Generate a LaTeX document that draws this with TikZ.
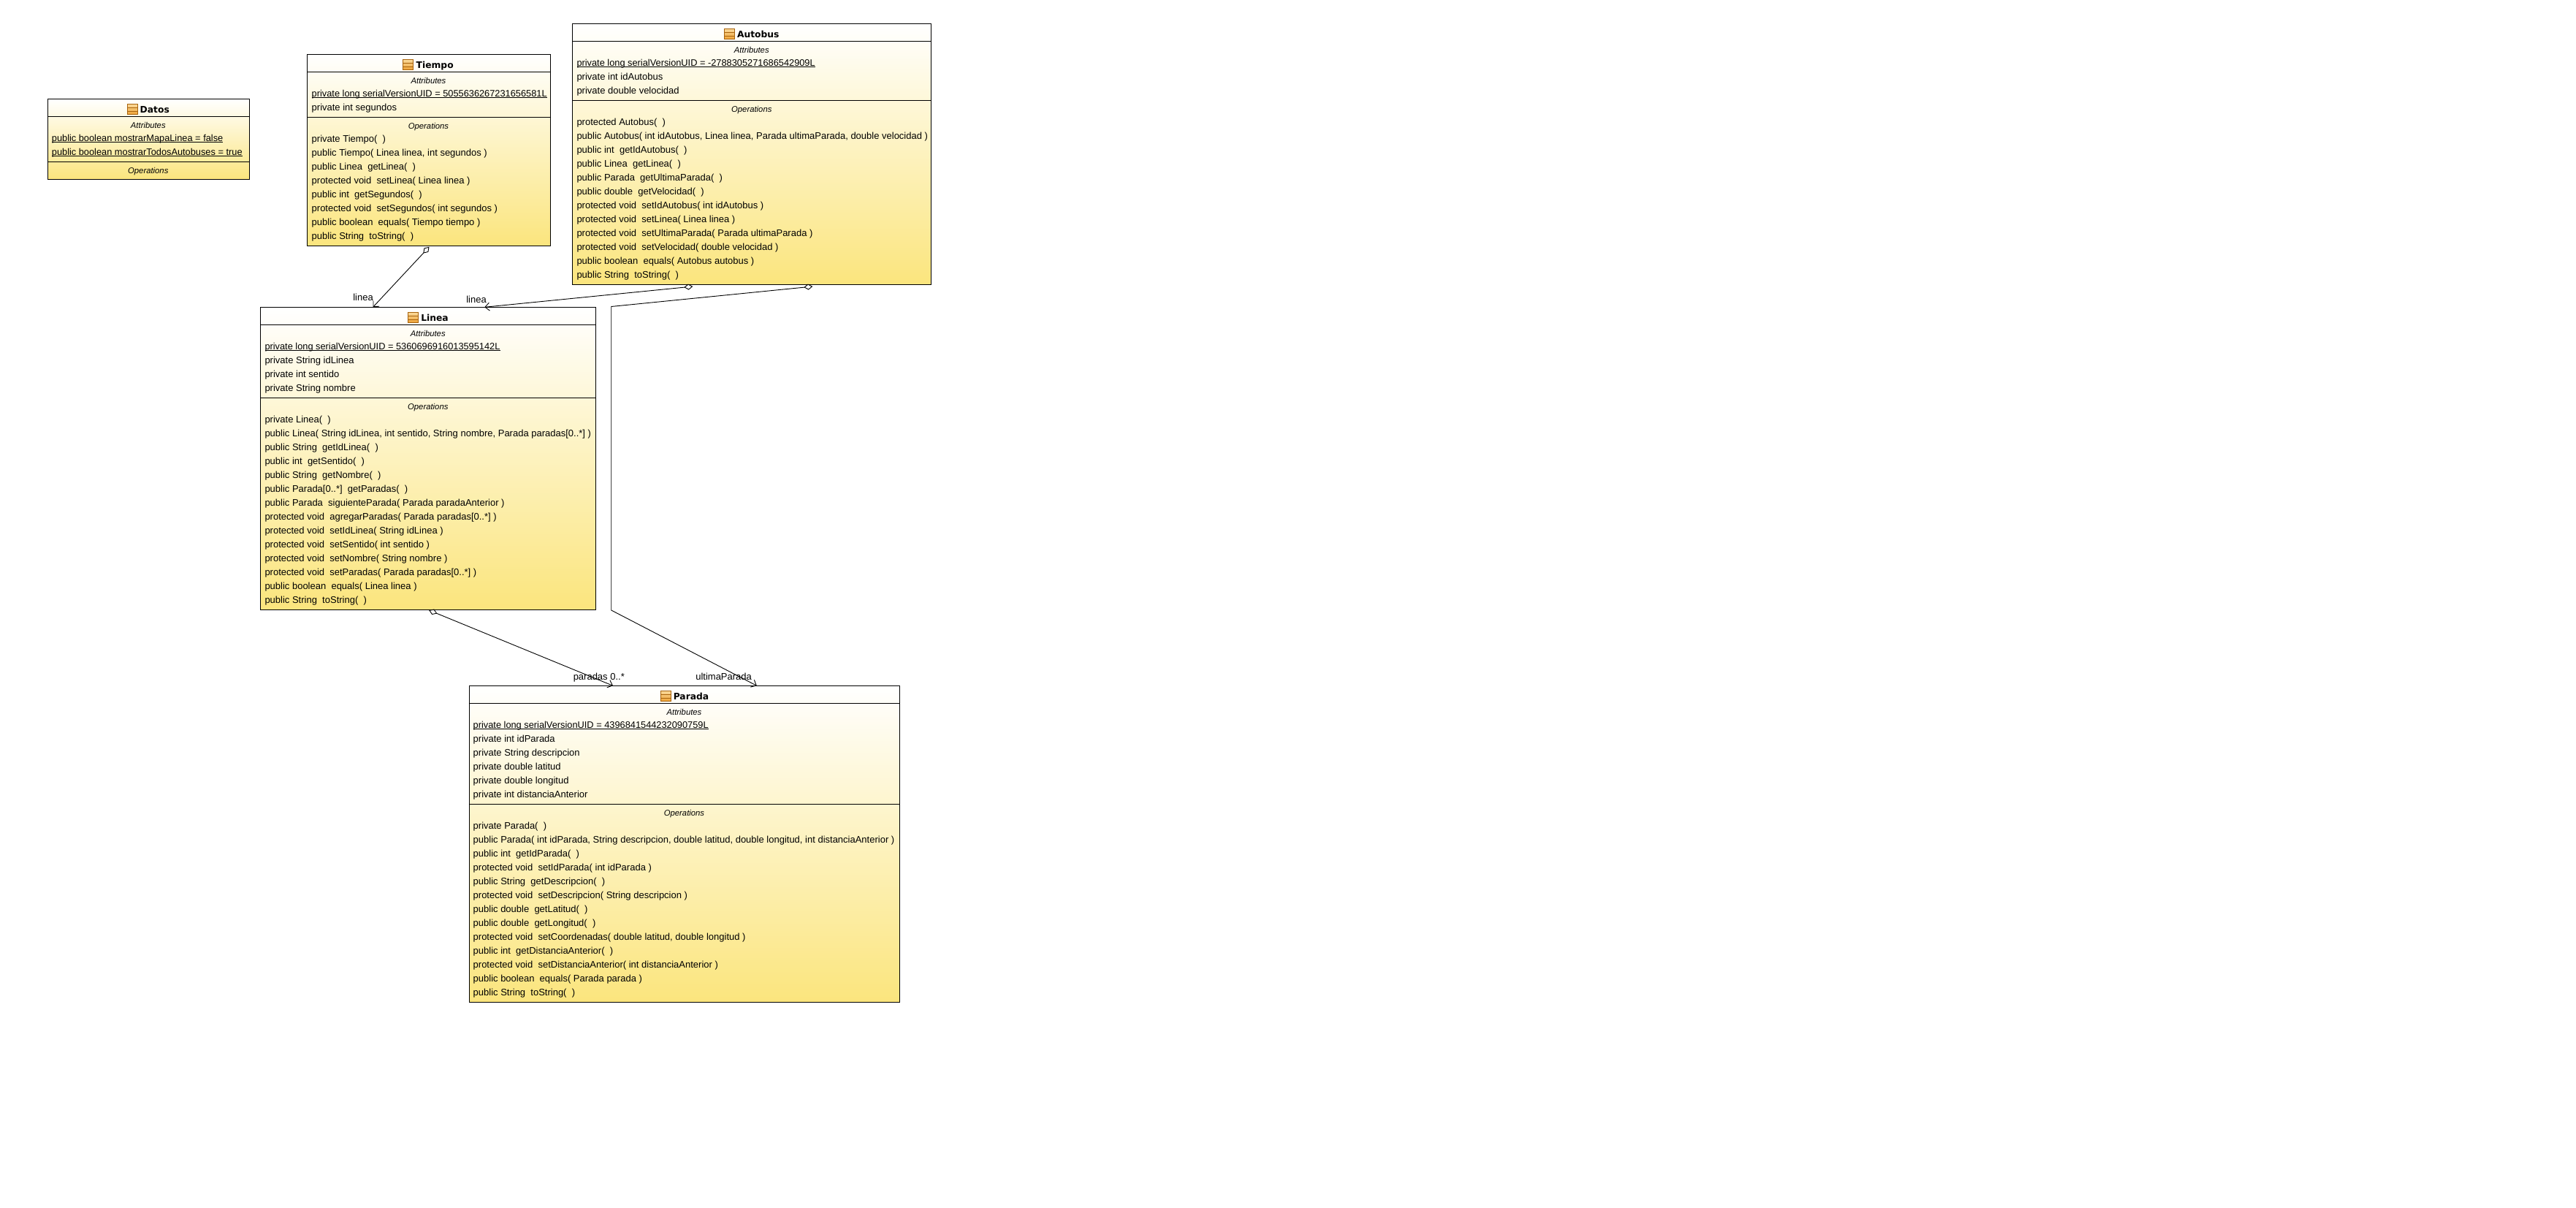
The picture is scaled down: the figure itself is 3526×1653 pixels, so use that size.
\documentclass[tikz,border=0pt]{standalone}
\usepackage{fontspec}
\setmainfont{Liberation Sans}
\newfontfamily\namefont{DejaVu Sans}
\usetikzlibrary{positioning,arrows.meta}
\newsavebox{\staticbox}
\newcommand{\staticrow}[1]{\sbox{\staticbox}{#1}\rlap{\rule[-1.8pt]{\wd\staticbox}{1pt}}\usebox{\staticbox}}
\tikzset{
classbox/.style={draw=black,line width=1pt,top color=cfTop,bottom color=cfBottom,shape=rectangle,inner sep=0pt,anchor=north west},
rowtext/.style={anchor=base west,inner sep=0pt,text=black,font=\fontsize{13}{15}\selectfont},
rowstatic/.style={rowtext,font=\fontsize{12.8}{15}\selectfont},
seclabel/.style={anchor=base,inner sep=0pt,text=black,font=\fontsize{11.3}{13}\selectfont\itshape},
classname/.style={anchor=base,inner sep=0pt,text height=10pt,text depth=0pt,font=\namefont\bfseries\fontsize{12.3}{15}\selectfont},
classicon/.style={draw=cIcon,line width=1pt,top color=cfIconTop,bottom color=cfIconBottom,shape=rectangle,inner sep=0pt,minimum width=14pt,minimum height=14pt,left=3pt of #1,path picture={\draw[cIcon,line width=0.8pt] ([yshift=-4.7pt]path picture bounding box.north west) -- ([yshift=-4.7pt]path picture bounding box.north east) ([yshift=4.7pt]path picture bounding box.south west) -- ([yshift=4.7pt]path picture bounding box.south east);}},
divider/.style={line width=1pt,draw=black},
assoc/.style={line width=0.9pt,draw=black,{Diamond[open,length=12pt,width=8pt,line width=0.9pt]}-{Straight Barb[length=6pt,width=11pt,line width=0.9pt]}},
rolelabel/.style={anchor=center,inner sep=0pt,text=black,font=\fontsize{13}{15}\selectfont}
}
\begin{document}
\begin{tikzpicture}[x=1pt,y=-1pt]
\definecolor{cfTop}{rgb}{1.0,1.0,1.0}
\definecolor{cfBottom}{rgb}{0.984,0.898,0.49}
\definecolor{cIcon}{rgb}{0.66,0.39,0.05}
\definecolor{cfIconTop}{rgb}{0.98,0.85,0.6}
\definecolor{cfIconBottom}{rgb}{0.93,0.63,0.2}
\useasboundingbox (0,0) rectangle (3526,1653);
%
\node[classbox,minimum width=276.6pt,minimum height=110pt] (vDatos) at (64.5,135.3) {};
\node[classbox,minimum width=332.2pt,minimum height=262pt] (vTiempo) at (420.4,74.3) {};
\node[classbox,minimum width=491pt,minimum height=356.7pt] (vAutobus) at (783.3,32.3) {};
\node[classbox,minimum width=459pt,minimum height=413.7pt] (vLinea) at (356.3,420.3) {};
\node[classbox,minimum width=589.9pt,minimum height=433pt] (vParada) at (641.5,938.3) {};
%
\draw[divider] (vDatos.west |- 0,159.3) -- (vDatos.east |- 0,159.3);
\draw[divider] (vDatos.west |- 0,221.3) -- (vDatos.east |- 0,221.3);
\draw[divider] (vTiempo.west |- 0,98.3) -- (vTiempo.east |- 0,98.3);
\draw[divider] (vTiempo.west |- 0,160.3) -- (vTiempo.east |- 0,160.3);
\draw[divider] (vAutobus.west |- 0,56.3) -- (vAutobus.east |- 0,56.3);
\draw[divider] (vAutobus.west |- 0,137.3) -- (vAutobus.east |- 0,137.3);
\draw[divider] (vLinea.west |- 0,444.3) -- (vLinea.east |- 0,444.3);
\draw[divider] (vLinea.west |- 0,544.3) -- (vLinea.east |- 0,544.3);
\draw[divider] (vParada.west |- 0,962.3) -- (vParada.east |- 0,962.3);
\draw[divider] (vParada.west |- 0,1100.3) -- (vParada.east |- 0,1100.3);
%
\node[classname] (vDatosName) at (211.8,154.8) {Datos};
\node[classicon=vDatosName] (vDatosIcon) {};
\node[classname] (vTiempoName) at (595.2,93.8) {Tiempo};
\node[classicon=vTiempoName] (vTiempoIcon) {};
\node[classname] (vAutobusName) at (1037.8,51.8) {Autobus};
\node[classicon=vAutobusName] (vAutobusIcon) {};
\node[classname] (vLineaName) at (595,439.8) {Linea};
\node[classicon=vLineaName] (vLineaIcon) {};
\node[classname] (vParadaName) at (946,957.8) {Parada};
\node[classicon=vParadaName] (vParadaIcon) {};
%
\node[seclabel] (vDatosA) at (202.8,175.7) {Attributes};
\node[rowstatic] (vDatosA1) at (70.7,193.3) {\staticrow{public boolean mostrarMapaLinea = false}};
\node[rowstatic] (vDatosA2) at (70.7,212.3) {\staticrow{public boolean mostrarTodosAutobuses = true}};
\node[seclabel] (vDatosO) at (202.8,237.7) {Operations};
%
\node[seclabel] (vTiempoA) at (586.5,114.7) {Attributes};
\node[rowstatic] (vTiempoA1) at (426.5,132.3) {\staticrow{private long serialVersionUID = 5055636267231656581L}};
\node[rowtext] (vTiempoA2) at (426.5,151.3) {private int segundos};
\node[seclabel] (vTiempoO) at (586.5,176.7) {Operations};
\node[rowtext] (vTiempoO1) at (426.5,194.3) {private Tiempo(\ \ )};
\node[rowtext] (vTiempoO2) at (426.5,213.3) {public Tiempo( Linea linea, int segundos )};
\node[rowtext] (vTiempoO3) at (426.5,232.3) {public Linea\ \ getLinea(\ \ )};
\node[rowtext] (vTiempoO4) at (426.5,251.3) {protected void\ \ setLinea( Linea linea )};
\node[rowtext] (vTiempoO5) at (426.5,270.3) {public int\ \ getSegundos(\ \ )};
\node[rowtext] (vTiempoO6) at (426.5,289.3) {protected void\ \ setSegundos( int segundos )};
\node[rowtext] (vTiempoO7) at (426.5,308.3) {public boolean\ \ equals( Tiempo tiempo )};
\node[rowtext] (vTiempoO8) at (426.5,327.3) {public String\ \ toString(\ \ )};
%
\node[seclabel] (vAutobusA) at (1028.8,72.7) {Attributes};
\node[rowstatic] (vAutobusA1) at (789.3,90.3) {\staticrow{private long serialVersionUID = -2788305271686542909L}};
\node[rowtext] (vAutobusA2) at (789.3,109.3) {private int idAutobus};
\node[rowtext] (vAutobusA3) at (789.3,128.3) {private double velocidad};
\node[seclabel] (vAutobusO) at (1028.8,153.7) {Operations};
\node[rowtext] (vAutobusO1) at (789.3,171.3) {protected Autobus(\ \ )};
\node[rowtext] (vAutobusO2) at (789.3,190.3) {public Autobus( int idAutobus, Linea linea, Parada ultimaParada, double velocidad )};
\node[rowtext] (vAutobusO3) at (789.3,209.3) {public int\ \ getIdAutobus(\ \ )};
\node[rowtext] (vAutobusO4) at (789.3,228.3) {public Linea\ \ getLinea(\ \ )};
\node[rowtext] (vAutobusO5) at (789.3,247.3) {public Parada\ \ getUltimaParada(\ \ )};
\node[rowtext] (vAutobusO6) at (789.3,266.3) {public double\ \ getVelocidad(\ \ )};
\node[rowtext] (vAutobusO7) at (789.3,285.3) {protected void\ \ setIdAutobus( int idAutobus )};
\node[rowtext] (vAutobusO8) at (789.3,304.3) {protected void\ \ setLinea( Linea linea )};
\node[rowtext] (vAutobusO9) at (789.3,323.3) {protected void\ \ setUltimaParada( Parada ultimaParada )};
\node[rowtext] (vAutobusO10) at (789.3,342.3) {protected void\ \ setVelocidad( double velocidad )};
\node[rowtext] (vAutobusO11) at (789.3,361.3) {public boolean\ \ equals( Autobus autobus )};
\node[rowtext] (vAutobusO12) at (789.3,380.3) {public String\ \ toString(\ \ )};
%
\node[seclabel] (vLineaA) at (585.8,460.7) {Attributes};
\node[rowstatic] (vLineaA1) at (362.3,478.3) {\staticrow{private long serialVersionUID = 5360696916013595142L}};
\node[rowtext] (vLineaA2) at (362.3,497.3) {private String idLinea};
\node[rowtext] (vLineaA3) at (362.3,516.3) {private int sentido};
\node[rowtext] (vLineaA4) at (362.3,535.3) {private String nombre};
\node[seclabel] (vLineaO) at (585.8,560.7) {Operations};
\node[rowtext] (vLineaO1) at (362.3,578.3) {private Linea(\ \ )};
\node[rowtext] (vLineaO2) at (362.3,597.3) {public Linea( String idLinea, int sentido, String nombre, Parada paradas[0..*] )};
\node[rowtext] (vLineaO3) at (362.3,616.3) {public String\ \ getIdLinea(\ \ )};
\node[rowtext] (vLineaO4) at (362.3,635.3) {public int\ \ getSentido(\ \ )};
\node[rowtext] (vLineaO5) at (362.3,654.3) {public String\ \ getNombre(\ \ )};
\node[rowtext] (vLineaO6) at (362.3,673.3) {public Parada[0..*]\ \ getParadas(\ \ )};
\node[rowtext] (vLineaO7) at (362.3,692.3) {public Parada\ \ siguienteParada( Parada paradaAnterior )};
\node[rowtext] (vLineaO8) at (362.3,711.3) {protected void\ \ agregarParadas( Parada paradas[0..*] )};
\node[rowtext] (vLineaO9) at (362.3,730.3) {protected void\ \ setIdLinea( String idLinea )};
\node[rowtext] (vLineaO10) at (362.3,749.3) {protected void\ \ setSentido( int sentido )};
\node[rowtext] (vLineaO11) at (362.3,768.3) {protected void\ \ setNombre( String nombre )};
\node[rowtext] (vLineaO12) at (362.3,787.3) {protected void\ \ setParadas( Parada paradas[0..*] )};
\node[rowtext] (vLineaO13) at (362.3,806.3) {public boolean\ \ equals( Linea linea )};
\node[rowtext] (vLineaO14) at (362.3,825.3) {public String\ \ toString(\ \ )};
%
\node[seclabel] (vParadaA) at (936.5,978.7) {Attributes};
\node[rowstatic] (vParadaA1) at (647.5,996.3) {\staticrow{private long serialVersionUID = 4396841544232090759L}};
\node[rowtext] (vParadaA2) at (647.5,1015.3) {private int idParada};
\node[rowtext] (vParadaA3) at (647.5,1034.3) {private String descripcion};
\node[rowtext] (vParadaA4) at (647.5,1053.3) {private double latitud};
\node[rowtext] (vParadaA5) at (647.5,1072.3) {private double longitud};
\node[rowtext] (vParadaA6) at (647.5,1091.3) {private int distanciaAnterior};
\node[seclabel] (vParadaO) at (936.5,1116.7) {Operations};
\node[rowtext] (vParadaO1) at (647.5,1134.3) {private Parada(\ \ )};
\node[rowtext] (vParadaO2) at (647.5,1153.3) {public Parada( int idParada, String descripcion, double latitud, double longitud, int distanciaAnterior )};
\node[rowtext] (vParadaO3) at (647.5,1172.3) {public int\ \ getIdParada(\ \ )};
\node[rowtext] (vParadaO4) at (647.5,1191.3) {protected void\ \ setIdParada( int idParada )};
\node[rowtext] (vParadaO5) at (647.5,1210.3) {public String\ \ getDescripcion(\ \ )};
\node[rowtext] (vParadaO6) at (647.5,1229.3) {protected void\ \ setDescripcion( String descripcion )};
\node[rowtext] (vParadaO7) at (647.5,1248.3) {public double\ \ getLatitud(\ \ )};
\node[rowtext] (vParadaO8) at (647.5,1267.3) {public double\ \ getLongitud(\ \ )};
\node[rowtext] (vParadaO9) at (647.5,1286.3) {protected void\ \ setCoordenadas( double latitud, double longitud )};
\node[rowtext] (vParadaO10) at (647.5,1305.3) {public int\ \ getDistanciaAnterior(\ \ )};
\node[rowtext] (vParadaO11) at (647.5,1324.3) {protected void\ \ setDistanciaAnterior( int distanciaAnterior )};
\node[rowtext] (vParadaO12) at (647.5,1343.3) {public boolean\ \ equals( Parada parada )};
\node[rowtext] (vParadaO13) at (647.5,1362.3) {public String\ \ toString(\ \ )};
%
\coordinate (cBendTop) at (836.7,419.5);
\coordinate (cBendBottom) at (836.7,835);
\draw[assoc] ([xshift=0.5pt,yshift=-0.5pt]vTiempo.south) -- ([xshift=-75.8pt]vLinea.north);
\draw[assoc] ([xshift=-81pt,yshift=-2pt]vAutobus.south) -- ([xshift=77pt]vLinea.north);
\draw[assoc] ([xshift=83pt,yshift=-2pt]vAutobus.south) -- (cBendTop) -- (cBendBottom) -- ([xshift=98.85pt]vParada.north);
\draw[assoc] ([xshift=0.9pt]vLinea.south) -- ([xshift=-98pt]vParada.north);
%
\node[rolelabel] (vRoleTiempo) at (497,407) {linea};
\node[rolelabel] (vRoleAutobus) at (652,410) {linea};
\node[rolelabel] (vRoleParadas) at (819.8,926.7) {paradas 0..*};
\node[rolelabel] (vRoleUltima) at (990.6,925.7) {ultimaParada};
%
\end{tikzpicture}
\end{document}
